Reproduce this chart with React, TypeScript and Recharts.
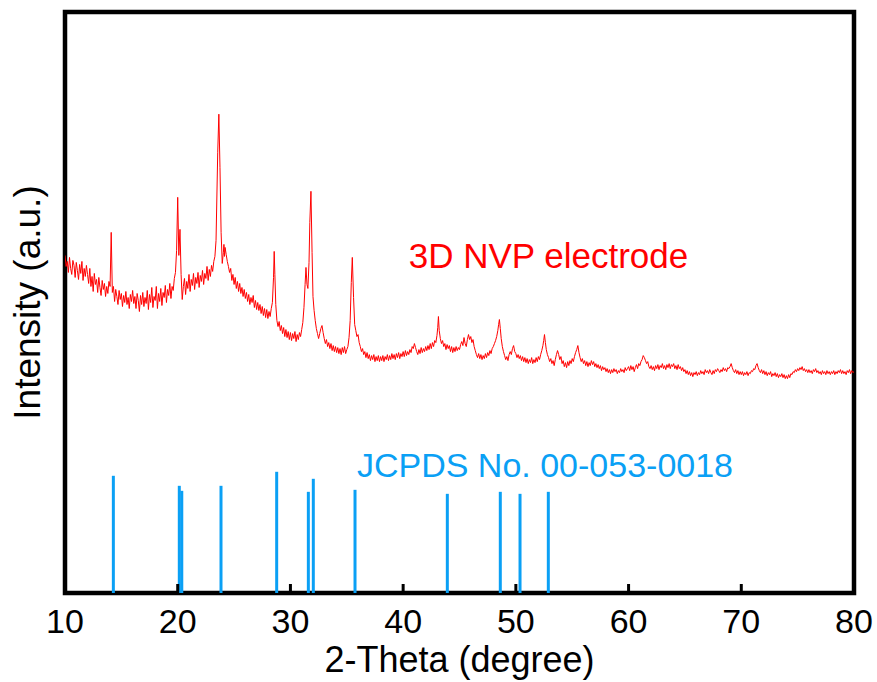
import React from 'react';
import {
  LineChart,
  Line,
  XAxis,
  YAxis,
  ReferenceArea,
  ReferenceLine,
  ReferenceDot,
} from 'recharts';

const FONT = '"Liberation Sans", Arial, Helvetica, sans-serif';
const RED = '#FF0000';
const BLUE = '#0AA0F5';

// measured XRD scan of the 3D NVP electrode: [2theta, intensity (a.u.)]
const nvpScan: [number, number][] = [
  [10, 337], [10.1, 326], [10.2, 331], [10.3, 320], [10.4, 335], [10.5, 324], [10.6, 318], [10.7, 332], [10.8, 327], [10.9, 315],
  [11, 330], [11.1, 322], [11.2, 313], [11.3, 328], [11.4, 319], [11.5, 331], [11.6, 312], [11.7, 324], [11.8, 316], [11.9, 327],
  [12, 318], [12.1, 309], [12.2, 324], [12.3, 306], [12.4, 316], [12.5, 301], [12.6, 319], [12.7, 308], [12.8, 313], [12.9, 300],
  [13, 315], [13.1, 305], [13.2, 297], [13.3, 312], [13.4, 303], [13.5, 309], [13.6, 296], [13.7, 306], [13.8, 299], [13.9, 311],
  [14, 306], [14.1, 360], [14.2, 300], [14.3, 306], [14.4, 291], [14.5, 303], [14.6, 296], [14.7, 288], [14.8, 302], [14.9, 293],
  [15, 299], [15.1, 286], [15.2, 297], [15.3, 290], [15.4, 301], [15.5, 288], [15.6, 295], [15.7, 284], [15.8, 298], [15.9, 291],
  [16, 302], [16.1, 289], [16.2, 296], [16.3, 284], [16.4, 299], [16.5, 292], [16.6, 281], [16.7, 297], [16.8, 288], [16.9, 300],
  [17, 286], [17.1, 295], [17.2, 289], [17.3, 302], [17.4, 283], [17.5, 298], [17.6, 290], [17.7, 305], [17.8, 285], [17.9, 296],
  [18, 292], [18.1, 306], [18.2, 284], [18.3, 299], [18.4, 291], [18.5, 304], [18.6, 287], [18.7, 300], [18.8, 295], [18.9, 307],
  [19, 290], [19.1, 303], [19.2, 297], [19.3, 309], [19.4, 294], [19.5, 306], [19.6, 302], [19.7, 314], [19.8, 320], [19.9, 342],
  [20, 395], [20.1, 337], [20.2, 363], [20.3, 318], [20.4, 293], [20.5, 306], [20.6, 314], [20.7, 298], [20.8, 311], [20.9, 304],
  [21, 318], [21.1, 301], [21.2, 313], [21.3, 307], [21.4, 319], [21.5, 303], [21.6, 315], [21.7, 309], [21.8, 320], [21.9, 305],
  [22, 317], [22.1, 311], [22.2, 322], [22.3, 308], [22.4, 319], [22.5, 314], [22.6, 326], [22.7, 312], [22.8, 323], [22.9, 316],
  [23, 327], [23.1, 321], [23.2, 331], [23.3, 336], [23.4, 352], [23.55, 440], [23.65, 478], [23.75, 425], [23.85, 360], [23.95, 329],
  [24.05, 340], [24.1, 348], [24.15, 336], [24.2, 345], [24.3, 338], [24.4, 331], [24.5, 326], [24.6, 320], [24.7, 324], [24.8, 312], [24.9, 318],
  [25, 308], [25.1, 315], [25.2, 304], [25.3, 311], [25.4, 301], [25.5, 309], [25.6, 299], [25.7, 305], [25.8, 296], [25.9, 303],
  [26, 294], [26.1, 300], [26.2, 291], [26.3, 298], [26.4, 288], [26.5, 295], [26.6, 290], [26.7, 297], [26.8, 285], [26.9, 292],
  [27, 283], [27.1, 290], [27.2, 282], [27.3, 288], [27.4, 279], [27.5, 286], [27.6, 277], [27.7, 284], [27.8, 275], [27.9, 283],
  [28, 274], [28.1, 281], [28.2, 276], [28.3, 284], [28.4, 290], [28.5, 315], [28.56, 341], [28.62, 318], [28.7, 288], [28.8, 272], [28.9, 266],
  [29, 271], [29.1, 262], [29.2, 267], [29.3, 259], [29.4, 265], [29.5, 256], [29.6, 263], [29.7, 255], [29.8, 261], [29.9, 253],
  [30, 260], [30.1, 252], [30.2, 259], [30.3, 254], [30.4, 261], [30.5, 251], [30.6, 258], [30.7, 253], [30.8, 260], [30.9, 256],
  [31, 263], [31.1, 270], [31.2, 285], [31.3, 308], [31.38, 325], [31.47, 308], [31.55, 304], [31.65, 330], [31.72, 370], [31.82, 401], [31.92, 340],
  [32, 296], [32.1, 282], [32.2, 272], [32.3, 264], [32.4, 259], [32.5, 254], [32.6, 259], [32.7, 264], [32.8, 267], [32.9, 260],
  [33, 254], [33.1, 249], [33.2, 253], [33.3, 246], [33.4, 250], [33.5, 244], [33.6, 249], [33.7, 242], [33.8, 247], [33.9, 241],
  [34, 246], [34.1, 240], [34.2, 245], [34.3, 239], [34.4, 244], [34.5, 238], [34.6, 245], [34.7, 240], [34.8, 246], [34.9, 239],
  [35, 243], [35.1, 246], [35.2, 255], [35.3, 272], [35.4, 310], [35.49, 335], [35.6, 295], [35.7, 268], [35.8, 262], [35.9, 256],
  [36, 258], [36.1, 250], [36.2, 246], [36.3, 241], [36.4, 244], [36.5, 238], [36.6, 241], [36.7, 235], [36.8, 240], [36.9, 234],
  [37, 238], [37.1, 232], [37.2, 237], [37.3, 233], [37.4, 238], [37.5, 231], [37.6, 236], [37.7, 232], [37.8, 237], [37.9, 231],
  [38, 236], [38.1, 232], [38.2, 237], [38.3, 231], [38.4, 236], [38.5, 233], [38.6, 238], [38.7, 232], [38.8, 237], [38.9, 233],
  [39, 239], [39.1, 234], [39.2, 238], [39.3, 233], [39.4, 239], [39.5, 235], [39.6, 240], [39.7, 234], [39.8, 239], [39.9, 236],
  [40, 241], [40.1, 236], [40.2, 242], [40.3, 237], [40.4, 241], [40.5, 238], [40.6, 243], [40.7, 240], [40.8, 246], [40.9, 244],
  [41, 249], [41.1, 245], [41.2, 241], [41.3, 238], [41.4, 243], [41.5, 239], [41.6, 245], [41.7, 240], [41.8, 244], [41.9, 241],
  [42, 246], [42.1, 242], [42.2, 247], [42.3, 243], [42.4, 249], [42.5, 244], [42.6, 250], [42.7, 246], [42.8, 252], [42.9, 250],
  [43, 257], [43.07, 265], [43.13, 276], [43.2, 262], [43.3, 254], [43.4, 249], [43.5, 252], [43.6, 246], [43.7, 249], [43.8, 243], [43.9, 248],
  [44, 244], [44.1, 247], [44.2, 241], [44.3, 246], [44.4, 240], [44.5, 245], [44.6, 241], [44.7, 246], [44.8, 242], [44.9, 245],
  [45, 243], [45.1, 248], [45.2, 251], [45.3, 247], [45.4, 255], [45.5, 249], [45.6, 246], [45.7, 253], [45.8, 258], [45.9, 253],
  [46, 256], [46.1, 250], [46.2, 253], [46.3, 246], [46.4, 242], [46.5, 238], [46.6, 235], [46.7, 239], [46.8, 234], [46.9, 238],
  [47, 233], [47.1, 237], [47.2, 234], [47.3, 239], [47.4, 235], [47.5, 240], [47.6, 237], [47.7, 242], [47.8, 239], [47.9, 244],
  [48, 246], [48.1, 249], [48.2, 252], [48.3, 256], [48.4, 262], [48.47, 268], [48.54, 273], [48.62, 264], [48.7, 254], [48.8, 246], [48.9, 241],
  [49, 237], [49.1, 233], [49.2, 236], [49.3, 232], [49.4, 238], [49.5, 241], [49.6, 238], [49.7, 244], [49.8, 247], [49.9, 241],
  [50, 239], [50.1, 235], [50.2, 238], [50.3, 234], [50.4, 237], [50.5, 232], [50.6, 236], [50.7, 231], [50.8, 235], [50.9, 230],
  [51, 234], [51.1, 229], [51.2, 233], [51.3, 230], [51.4, 235], [51.5, 229], [51.6, 233], [51.7, 230], [51.8, 235], [51.9, 231],
  [52, 236], [52.1, 233], [52.2, 238], [52.3, 242], [52.4, 247], [52.47, 252], [52.54, 258], [52.62, 250], [52.7, 243], [52.8, 238], [52.9, 235],
  [53, 231], [53.1, 234], [53.2, 229], [53.3, 232], [53.4, 227], [53.5, 233], [53.6, 238], [53.7, 242], [53.8, 238], [53.9, 233],
  [54, 236], [54.1, 229], [54.2, 232], [54.3, 226], [54.4, 230], [54.5, 225], [54.6, 231], [54.7, 227], [54.8, 232], [54.9, 229],
  [55, 234], [55.1, 231], [55.2, 236], [55.3, 240], [55.4, 243], [55.5, 247], [55.6, 240], [55.7, 235], [55.8, 231], [55.9, 234],
  [56, 229], [56.1, 232], [56.2, 227], [56.3, 231], [56.4, 226], [56.5, 230], [56.6, 227], [56.7, 232], [56.8, 228], [56.9, 231],
  [57, 226], [57.1, 229], [57.2, 225], [57.3, 228], [57.4, 224], [57.5, 227], [57.6, 222], [57.7, 226], [57.8, 223], [57.9, 225],
  [58, 221], [58.1, 224], [58.2, 220], [58.3, 223], [58.4, 219], [58.5, 223], [58.6, 220], [58.7, 224], [58.8, 221], [58.9, 223],
  [59, 219], [59.1, 222], [59.2, 220], [59.3, 224], [59.4, 221], [59.5, 223], [59.6, 220], [59.7, 225], [59.8, 222], [59.9, 224],
  [60, 226], [60.1, 222], [60.2, 227], [60.3, 223], [60.4, 226], [60.5, 221], [60.6, 225], [60.7, 228], [60.8, 224], [60.9, 229],
  [61, 227], [61.1, 231], [61.2, 233], [61.3, 237], [61.4, 235], [61.5, 232], [61.6, 229], [61.7, 231], [61.8, 226], [61.9, 224],
  [62, 227], [62.1, 223], [62.2, 226], [62.3, 222], [62.4, 227], [62.5, 224], [62.6, 228], [62.7, 223], [62.8, 227], [62.9, 225],
  [63, 229], [63.1, 224], [63.2, 227], [63.3, 223], [63.4, 228], [63.5, 225], [63.6, 229], [63.7, 224], [63.8, 228], [63.9, 226],
  [64, 229], [64.1, 224], [64.2, 227], [64.3, 223], [64.4, 228], [64.5, 224], [64.6, 226], [64.7, 222], [64.8, 225], [64.9, 221],
  [65, 223], [65.1, 219], [65.2, 222], [65.3, 218], [65.4, 221], [65.5, 217], [65.6, 220], [65.7, 216], [65.8, 220], [65.9, 218],
  [66, 221], [66.1, 217], [66.2, 220], [66.3, 218], [66.4, 222], [66.5, 219], [66.6, 221], [66.7, 218], [66.8, 223], [66.9, 220],
  [67, 222], [67.1, 219], [67.2, 223], [67.3, 220], [67.4, 218], [67.5, 222], [67.6, 219], [67.7, 223], [67.8, 221], [67.9, 224],
  [68, 222], [68.1, 220], [68.2, 223], [68.3, 221], [68.4, 225], [68.5, 222], [68.6, 224], [68.7, 221], [68.8, 225], [68.9, 224],
  [69, 226], [69.1, 229], [69.2, 225], [69.3, 222], [69.4, 220], [69.5, 223], [69.6, 219], [69.7, 222], [69.8, 218], [69.9, 221],
  [70, 218], [70.1, 221], [70.2, 217], [70.3, 220], [70.4, 218], [70.5, 221], [70.6, 217], [70.7, 220], [70.8, 219], [70.9, 222],
  [71, 221], [71.1, 224], [71.2, 223], [71.3, 227], [71.4, 229], [71.5, 225], [71.6, 222], [71.7, 220], [71.8, 223], [71.9, 219],
  [72, 222], [72.1, 218], [72.2, 221], [72.3, 217], [72.4, 220], [72.5, 218], [72.6, 221], [72.7, 216], [72.8, 219], [72.9, 217],
  [73, 220], [73.1, 216], [73.2, 219], [73.3, 215], [73.4, 218], [73.5, 216], [73.6, 219], [73.7, 215], [73.8, 218], [73.9, 214],
  [74, 217], [74.1, 214], [74.2, 218], [74.3, 215], [74.4, 219], [74.5, 218], [74.6, 221], [74.7, 220], [74.8, 223], [74.9, 221],
  [75, 224], [75.1, 222], [75.2, 225], [75.3, 223], [75.4, 226], [75.5, 222], [75.6, 224], [75.7, 221], [75.8, 223], [75.9, 220],
  [76, 223], [76.1, 220], [76.2, 222], [76.3, 219], [76.4, 223], [76.5, 221], [76.6, 224], [76.7, 220], [76.8, 222], [76.9, 219],
  [77, 221], [77.1, 218], [77.2, 222], [77.3, 219], [77.4, 221], [77.5, 218], [77.6, 222], [77.7, 219], [77.8, 221], [77.9, 218],
  [78, 221], [78.1, 219], [78.2, 222], [78.3, 218], [78.4, 221], [78.5, 219], [78.6, 222], [78.7, 220], [78.8, 223], [78.9, 219],
  [79, 222], [79.1, 219], [79.2, 221], [79.3, 218], [79.4, 222], [79.5, 220], [79.6, 223], [79.7, 219], [79.8, 222], [79.9, 220], [80, 221],
];

// JCPDS No. 00-053-0018 reference lines
const refAngles = [14.29, 20.14, 20.36, 23.84, 28.78, 31.59, 32.03, 35.73, 43.92, 48.62, 50.37, 52.88];
const refHeights = [117, 107, 102, 107, 121, 101, 114, 103, 99, 101, 99, 101];

const xTicks = [10, 20, 30, 40, 50, 60, 70, 80];
const innerTicks = [20, 30, 40, 50, 60, 70];

const data = nvpScan.map(([theta, intensity]) => ({ theta, intensity }));

export default function App() {
  return (
    <div style={{ position: 'absolute', left: 0, top: 0 }}>
      <LineChart
        width={877}
        height={682}
        data={data}
        margin={{ top: 12, right: 23, bottom: 0, left: 0 }}
      >
        <XAxis
          dataKey="theta"
          type="number"
          domain={[10, 80]}
          ticks={xTicks}
          interval={0}
          allowDataOverflow
          axisLine={false}
          tickLine={false}
          tickSize={0}
          tickMargin={16}
          height={89}
          tick={{ fontSize: 34, fill: '#000', fontFamily: FONT }}
          label={{
            value: '2-Theta (degree)',
            position: 'insideBottom',
            offset: 10,
            fontSize: 36,
            fill: '#000',
            fontFamily: FONT,
          }}
        />
        <YAxis
          type="number"
          domain={[0, 580]}
          allowDataOverflow
          width={65}
          axisLine={false}
          tickLine={false}
          tick={false}
          label={{
            value: 'Intensity (a.u.)',
            angle: -90,
            position: 'insideLeft',
            offset: 27,
            fontSize: 37,
            fill: '#000',
            fontFamily: FONT,
            style: { textAnchor: 'middle' },
          }}
        />
        {refAngles.map((a, i) => (
          <ReferenceLine
            key={`ref-${i}`}
            segment={[{ x: a, y: 0 }, { x: a, y: refHeights[i] }]}
            stroke={BLUE}
            strokeWidth={3}
          />
        ))}
        {innerTicks.map((t) => (
          <ReferenceLine
            key={`tick-${t}`}
            segment={[{ x: t, y: 0 }, { x: t, y: 9 }]}
            stroke="#000"
            strokeWidth={3}
          />
        ))}
        <Line
          type="linear"
          dataKey="intensity"
          stroke={RED}
          strokeWidth={1}
          dot={false}
          isAnimationActive={false}
        />
        <ReferenceDot
          x={40.5}
          y={337}
          r={0}
          fill="none"
          stroke="none"
          label={{ value: '3D NVP electrode', position: 'right', offset: 0, fontSize: 35, fill: RED, fontFamily: FONT }}
        />
        <ReferenceDot
          x={35.9}
          y={128}
          r={0}
          fill="none"
          stroke="none"
          label={{ value: 'JCPDS No. 00-053-0018', position: 'right', offset: 0, fontSize: 34, fill: BLUE, fontFamily: FONT }}
        />
        <ReferenceArea x1={10} x2={80} y1={0} y2={580} fill="none" stroke="#000" strokeWidth={4.5} />
      </LineChart>
    </div>
  );
}
